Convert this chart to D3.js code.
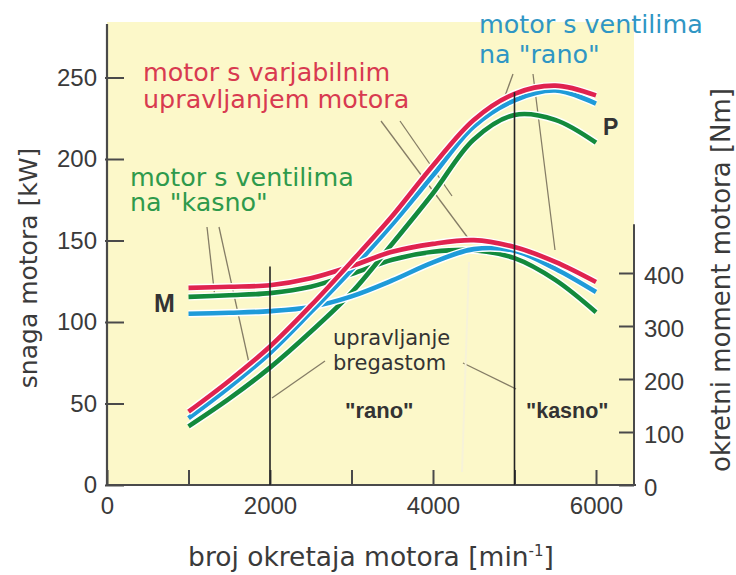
<!DOCTYPE html>
<meta charset="utf-8">
<html>
<head>
<script src="https://cdn.jsdelivr.net/npm/d3@7"></script>
<style>
body { margin: 0; background: #fff; }
text { font-family: "DejaVu Sans", "Open Sans", sans-serif; }
.tick text { font-family: "Liberation Sans", Arial, sans-serif; font-size: 24px; fill: #3a3a3a; }
.tick line { stroke: #4a4a4a; stroke-width: 2; }
</style>
</head>
<body>
<script>

// ---- data ------------------------------------------------------------------
var rpm            = [1000, 1500, 2000, 2500, 3000, 3500, 4000, 4500, 5000, 5500, 6000];
// power P [kW], left axis
var powerVariable  = [45, 64, 85, 110, 137, 165, 196, 224, 240, 245, 239];
var powerEarly     = [41, 60, 81, 106, 132, 160, 190, 220, 236, 242, 234];
var powerLate      = [36, 53, 72,  94, 118, 148, 179, 212, 227, 224, 210];
// torque M [Nm], right axis
var torqueVariable = [372, 374, 377, 390, 413, 440, 455, 462, 449, 421, 383];
var torqueEarly    = [323, 325, 328, 336, 356, 386, 420, 445, 442, 408, 364];
var torqueLate     = [355, 358, 362, 374, 398, 425, 440, 443, 428, 387, 326];

var xTicks      = [0, 1000, 2000, 3000, 4000, 5000, 6000];
var xTickLabels = [0, 2000, 4000, 6000];
var powerTicks  = [0, 50, 100, 150, 200, 250];
var torqueTicks = [0, 100, 200, 300, 400];
// camshaft switch points: rpm, and how high (kW) the marker line reaches
var camRpm = [2000, 5000];
var camTop = [134, 241];

var W = 736, H = 575;
var svg = d3.select("body").append("svg")
  .attr("width", W)
  .attr("height", H);

// ---- scales ----------------------------------------------------------------
var plotLeft = 107, plotBottom = 485, plotTop = 24, plotRight = 634;
var x  = d3.scaleLinear().domain([0, 6000]).range([plotLeft, 596]);
var yP = d3.scaleLinear().domain([0, 250]).range([plotBottom, 77.5]);
var yM = d3.scaleLinear().domain([0, 400]).range([plotBottom, 273]);

// yellow plot background
svg.append("rect")
  .attr("x", plotLeft).attr("y", plotTop - 2)
  .attr("width", plotRight - plotLeft).attr("height", plotBottom - plotTop + 2)
  .style("fill", "#fcf8c9");

// ---- axes ------------------------------------------------------------------
var gx = svg.append("g")
  .attr("transform", "translate(0," + plotBottom + ")")
  .call(d3.axisBottom(x).tickValues(xTicks).tickSizeInner(-15).tickSizeOuter(0).tickPadding(12)
    .tickFormat(function(d) { return xTickLabels.indexOf(d) >= 0 ? d : ""; }));
gx.select(".domain").remove();

var gl = svg.append("g")
  .attr("transform", "translate(" + plotLeft + ",0)")
  .call(d3.axisLeft(yP).tickValues(powerTicks).tickSizeInner(-17).tickSizeOuter(0).tickPadding(10));
gl.select(".domain").remove();
gl.selectAll(".tick line").attr("x1", -2);

var gr = svg.append("g")
  .attr("transform", "translate(" + plotRight + ",0)")
  .call(d3.axisRight(yM).tickValues(torqueTicks).tickSizeInner(-15).tickSizeOuter(0).tickPadding(10));
gr.select(".domain").remove();
gr.selectAll(".tick text").attr("dy", "0.45em");

// frame lines
svg.append("line")
  .attr("x1", plotLeft).attr("x2", plotLeft).attr("y1", plotTop).attr("y2", plotBottom + 1)
  .style("stroke", "#4a4a4a").style("stroke-width", 2.2);
svg.append("line")
  .attr("x1", plotLeft).attr("x2", plotRight + 2).attr("y1", plotBottom).attr("y2", plotBottom)
  .style("stroke", "#4a4a4a").style("stroke-width", 2.2);
svg.append("line")
  .attr("x1", plotRight).attr("x2", plotRight).attr("y1", yM(492)).attr("y2", plotBottom)
  .style("stroke", "#4a4a4a").style("stroke-width", 2);

// ---- leader lines (under the curves) ---------------------------------------
var leaders = [
  [207, 227, 215, 298], [219, 227, 251, 372],   // na "kasno"
  [381, 121, 468, 238], [400, 121, 452, 196],   // upravljanjem motora
  [513, 74, 505, 96],   [533, 74, 555, 250],    // na "rano"
  [325, 361, 272, 398], [463, 363, 516, 389]    // bregastom
];
svg.selectAll(".leader")
  .data(leaders)
  .enter().append("line")
  .attr("class", "leader")
  .attr("x1", function(d) { return d[0]; })
  .attr("y1", function(d) { return d[1]; })
  .attr("x2", function(d) { return d[2]; })
  .attr("y2", function(d) { return d[3]; })
  .style("stroke", "#857d66")
  .style("stroke-width", 1.3);
// faint one
svg.append("line")
  .attr("x1", 469).attr("y1", 262).attr("x2", 462).attr("y2", 472)
  .style("stroke", "#f6f2d8").style("stroke-width", 2);

// ---- curves ----------------------------------------------------------------
var series = [
  { name: "late",     color: "#138a3c", power: powerLate,     torque: torqueLate },
  { name: "early",    color: "#1f9bd9", power: powerEarly,    torque: torqueEarly },
  { name: "variable", color: "#e0234f", power: powerVariable, torque: torqueVariable }
];

var lineP = d3.line()
  .x(function(d, i) { return x(rpm[i]); })
  .y(function(d) { return yP(d); })
  .curve(d3.curveCatmullRom.alpha(0.5));
var lineM = d3.line()
  .x(function(d, i) { return x(rpm[i]); })
  .y(function(d) { return yM(d); })
  .curve(d3.curveCatmullRom.alpha(0.5));

series.forEach(function(s) {
  [lineM(s.torque), lineP(s.power)].forEach(function(p) {
    svg.append("path").attr("d", p)
      .style("fill", "none").style("stroke", "#fff").style("stroke-width", 7.5);
    svg.append("path").attr("d", p)
      .style("fill", "none").style("stroke", s.color).style("stroke-width", 4.6)
      .style("stroke-linecap", "butt");
  });
});

// camshaft marker lines
svg.selectAll(".cam")
  .data(camRpm)
  .enter().append("line")
  .attr("class", "cam")
  .attr("x1", function(d) { return x(d); })
  .attr("x2", function(d) { return x(d); })
  .attr("y1", function(d, i) { return yP(camTop[i]); })
  .attr("y2", plotBottom)
  .style("stroke", "#222")
  .style("stroke-width", 1.6);

// ---- texts -----------------------------------------------------------------
// two-line labels as one text with tspans
var notes = [
  { lines: ["motor s varjabilnim", "upravljanjem motora"], x: 143, y: 81,  lh: 27, c: "#d83a50", s: 25.4 },
  { lines: ["motor s ventilima", "na \"kasno\""],          x: 130, y: 186, lh: 25, c: "#2e9a4c", s: 25.4 },
  { lines: ["motor s ventilima", "na \"rano\""],           x: 479, y: 33,  lh: 30, c: "#2f96c4", s: 25.4 },
  { lines: ["upravljanje", "bregastom"],                   x: 333, y: 345, lh: 25, c: "#333",    s: 21 }
];
var noteText = svg.selectAll(".note")
  .data(notes)
  .enter().append("text")
  .attr("class", "note")
  .attr("x", function(d) { return d.x; })
  .attr("y", function(d) { return d.y; })
  .style("font-size", function(d) { return d.s + "px"; })
  .style("fill", function(d) { return d.c; });
noteText.each(function(d) {
  var t = d3.select(this);
  d.lines.forEach(function(l, i) {
    t.append("tspan")
      .attr("x", d.x)
      .attr("dy", i === 0 ? 0 : d.lh)
      .text(l);
  });
});

var plain = [
  { t: "\"rano\"",    x: 345, y: 418, s: 22 },
  { t: "\"kasno\"",   x: 526, y: 418, s: 21.5 },
  { t: "M",           x: 154, y: 312, s: 25 },
  { t: "P",           x: 603, y: 135, s: 23 }
];
svg.selectAll(".plain")
  .data(plain)
  .enter().append("text")
  .attr("class", "plain")
  .attr("x", function(d) { return d.x; })
  .attr("y", function(d) { return d.y; })
  .style("font-family", "'Liberation Sans', Arial, sans-serif")
  .style("font-weight", "bold")
  .style("font-size", function(d) { return d.s + "px"; })
  .style("fill", "#333")
  .text(function(d) { return d.t; });

// axis titles
var xt = svg.append("text")
  .attr("x", 371).attr("y", 566)
  .attr("text-anchor", "middle")
  .style("font-size", "26.5px").style("fill", "#3a3a3a")
  .text("broj okretaja motora [min");
xt.append("tspan").attr("dy", -10).style("font-size", "15px").text("-1");
xt.append("tspan").attr("dy", 10).text("]");

svg.append("text")
  .attr("transform", "translate(37,268) rotate(-90)")
  .attr("text-anchor", "middle")
  .style("font-size", "25px").style("fill", "#3a3a3a")
  .text("snaga motora [kW]");

svg.append("text")
  .attr("transform", "translate(730,280) rotate(-90)")
  .attr("text-anchor", "middle")
  .style("font-size", "26px").style("fill", "#3a3a3a")
  .text("okretni moment motora [Nm]");
</script>
</body>
</html>
